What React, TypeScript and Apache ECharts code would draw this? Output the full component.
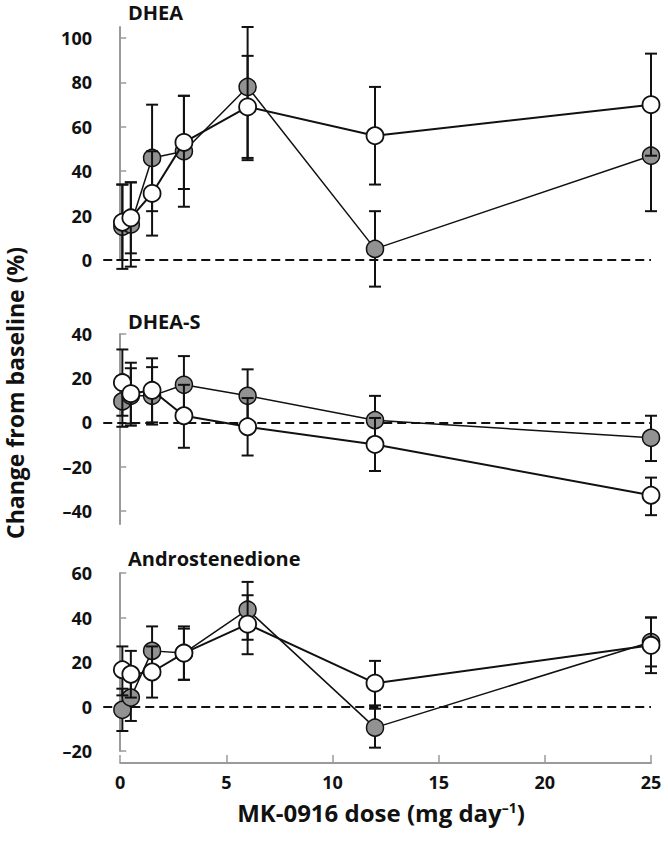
import React, { useEffect, useRef } from "react";
import * as echarts from "echarts";

const doses = [0.1, 0.5, 1.5, 3, 6, 12, 25];

const dheaGrayMean = [15, 16, 46, 49, 78, 5, 47];
const dheaGrayLow = [-4, -3, 22, 24, 46, -12, 22];
const dheaGrayHigh = [34, 35, 70, 74, 105, 22, 72];
const dheaWhiteMean = [17, 19, 30, 53, 69, 56, 70];
const dheaWhiteLow = [0, 3, 11, 32, 45, 34, 47];
const dheaWhiteHigh = [34, 35, 49, 74, 92, 78, 93];

const dheasGrayMean = [9.5, 12, 12, 17, 12, 1, -7];
const dheasGrayLow = [-2, -0.5, -1, 4, 0, -10, -17.5];
const dheasGrayHigh = [21, 24.5, 25, 30, 24, 12, 3];
const dheasWhiteMean = [18, 13, 14.5, 3, -2, -10, -33];
const dheasWhiteLow = [3, -1.5, 0, -11.5, -15, -22, -42];
const dheasWhiteHigh = [33, 27, 29, 17, 11, 2, -25];

const androGrayMean = [-1.5, 4, 25, 24, 43.5, -9.5, 29];
const androGrayLow = [-11, -6.5, 14, 12, 30, -18.5, 18];
const androGrayHigh = [8, 14, 36, 36, 56, -1, 40];
const androWhiteMean = [16.5, 14.5, 15.5, 24, 37, 10.5, 27.5];
const androWhiteLow = [5, 4, 4, 12, 23.5, 0.5, 15];
const androWhiteHigh = [27, 25, 27, 35, 50, 20.5, 40];

const dheaTicks = [0, 20, 40, 60, 80, 100];
const dheasTicks = [-40, -20, 0, 20, 40];
const androTicks = [-20, 0, 20, 40, 60];
const doseTicks = [0, 5, 10, 15, 20, 25];

const panelTitles = ["DHEA", "DHEA-S", "Androstenedione"];
const yTitle = "Change from baseline (%)";

const FONT = "'Open Sans', 'DejaVu Sans', sans-serif";
const AXIS_GRAY = "#9a9a9a";
const GRAY_FILL = "#929292";

const pair = (m: number[]) => doses.map((d, i) => [d, m[i]]);
const bars = (lo: number[], hi: number[]) => doses.map((d, i) => [d, lo[i], hi[i]]);

const errRender = (params: any, api: any) => {
  const x = api.value(0);
  const p1 = api.coord([x, api.value(1)]);
  const p2 = api.coord([x, api.value(2)]);
  const w = 6;
  const st = { stroke: "#111", lineWidth: 2 };
  return {
    type: "group",
    children: [
      { type: "line", shape: { x1: p1[0], y1: p1[1], x2: p2[0], y2: p2[1] }, style: st },
      { type: "line", shape: { x1: p1[0] - w, y1: p1[1], x2: p1[0] + w, y2: p1[1] }, style: st },
      { type: "line", shape: { x1: p2[0] - w, y1: p2[1], x2: p2[0] + w, y2: p2[1] }, style: st },
    ],
  };
};

function panelSeries(
  idx: number,
  gm: number[], gl: number[], gh: number[],
  wm: number[], wl: number[], wh: number[]
) {
  return [
    {
      type: "custom", xAxisIndex: idx, yAxisIndex: idx, z: 2, clip: false,
      renderItem: errRender, data: bars(gl, gh), encode: { x: 0, y: [1, 2] },
    },
    {
      type: "line", xAxisIndex: idx, yAxisIndex: idx, z: 3, data: pair(gm),
      symbol: "circle", symbolSize: 17,
      lineStyle: { color: "#111", width: 1.5 },
      itemStyle: { color: GRAY_FILL, borderColor: "#111", borderWidth: 1.5 },
      markLine: {
        silent: true, symbol: "none", z: 1,
        label: { show: false },
        lineStyle: { color: "#111", type: [9, 5], width: 2 },
        data: [[{ coord: [-0.8, 0] }, { coord: [25, 0] }]],
      },
    },
    {
      type: "custom", xAxisIndex: idx, yAxisIndex: idx, z: 4, clip: false,
      renderItem: errRender, data: bars(wl, wh), encode: { x: 0, y: [1, 2] },
    },
    {
      type: "line", xAxisIndex: idx, yAxisIndex: idx, z: 5, data: pair(wm),
      symbol: "circle", symbolSize: 17,
      lineStyle: { color: "#111", width: 2 },
      itemStyle: { color: "#fff", borderColor: "#111", borderWidth: 1.8 },
    },
  ];
}

const yAxisBase = (idx: number, min: number, max: number, ticks: number[]) => ({
  type: "value", gridIndex: idx, min, max,
  axisLine: { show: true, lineStyle: { color: AXIS_GRAY, width: 2 } },
  axisTick: { show: true, inside: true, length: 6, lineStyle: { color: AXIS_GRAY, width: 1.5 }, customValues: ticks },
  axisLabel: {
    show: true, customValues: ticks, margin: 7,
    color: "#111", fontWeight: "bold", fontFamily: FONT, fontSize: 18,
    formatter: (v: number) => String(v).replace("-", "\u2013"),
  },
  splitLine: { show: false },
});

const xHidden = (idx: number) => ({
  type: "value", gridIndex: idx, min: -1, max: 25, show: false,
});

export default function App() {
  const ref = useRef<HTMLDivElement>(null);
  useEffect(() => {
    if (!ref.current) return;
    const chart = echarts.init(ref.current, null, { renderer: "svg" });
    const L = 99, W = 552;
    const option: any = {
      animation: false,
      backgroundColor: "#fff",
      grid: [
        { left: L, width: W, top: 27, height: 233 },
        { left: L, width: W, top: 334, height: 190 },
        { left: L, width: W, top: 573, height: 178 },
        { left: L + W / 26, width: W - W / 26, top: 762, height: 1 },
      ],
      xAxis: [
        xHidden(0), xHidden(1), xHidden(2),
        {
          type: "value", gridIndex: 3, min: 0, max: 25,
          axisLine: { show: true, lineStyle: { color: AXIS_GRAY, width: 2 } },
          axisTick: { show: true, inside: true, length: 8, lineStyle: { color: AXIS_GRAY, width: 1.5 }, customValues: doseTicks },
          axisLabel: { show: true, customValues: doseTicks, margin: 10, color: "#111", fontWeight: "bold", fontFamily: FONT, fontSize: 18 },
          splitLine: { show: false },
        },
      ],
      yAxis: [
        yAxisBase(0, 0, 105, dheaTicks),
        yAxisBase(1, -46, 40, dheasTicks),
        yAxisBase(2, -20, 60, androTicks),
        { type: "value", gridIndex: 3, show: false, min: 0, max: 1 },
      ],
      series: [
        ...panelSeries(0, dheaGrayMean, dheaGrayLow, dheaGrayHigh, dheaWhiteMean, dheaWhiteLow, dheaWhiteHigh),
        ...panelSeries(1, dheasGrayMean, dheasGrayLow, dheasGrayHigh, dheasWhiteMean, dheasWhiteLow, dheasWhiteHigh),
        ...panelSeries(2, androGrayMean, androGrayLow, androGrayHigh, androWhiteMean, androWhiteLow, androWhiteHigh),
      ],
      graphic: [
        ...panelTitles.map((t, i) => ({
          type: "text", left: 128, top: [2, 311, 548][i],
          style: { text: t, fill: "#111", font: `bold 20px ${FONT}` },
        })),
        {
          type: "text", x: 15, y: 393, rotation: Math.PI / 2,
          style: {
            text: yTitle, fill: "#111", font: `bold 23px ${FONT}`,
            textAlign: "center", textVerticalAlign: "middle",
            align: "center", verticalAlign: "middle",
          },
        },
        {
          type: "text", x: 381, y: 812,
          style: {
            text: "MK-0916 dose (mg day{sup|\u20131})",
            fill: "#111", font: `bold 24px ${FONT}`,
            textAlign: "center", textVerticalAlign: "middle",
            align: "center", verticalAlign: "middle",
            rich: {
              sup: { fontSize: 14, fontWeight: "bold", fontFamily: FONT, fill: "#111", verticalAlign: "top", lineHeight: 14, padding: [0, 0, 12, 0] },
            },
          },
        },
      ],
    };
    chart.setOption(option);
    return () => chart.dispose();
  }, []);
  return (
    <div
      ref={ref}
      style={{ position: "fixed", left: 0, top: 0, width: 668, height: 848, background: "#fff" }}
    />
  );
}
